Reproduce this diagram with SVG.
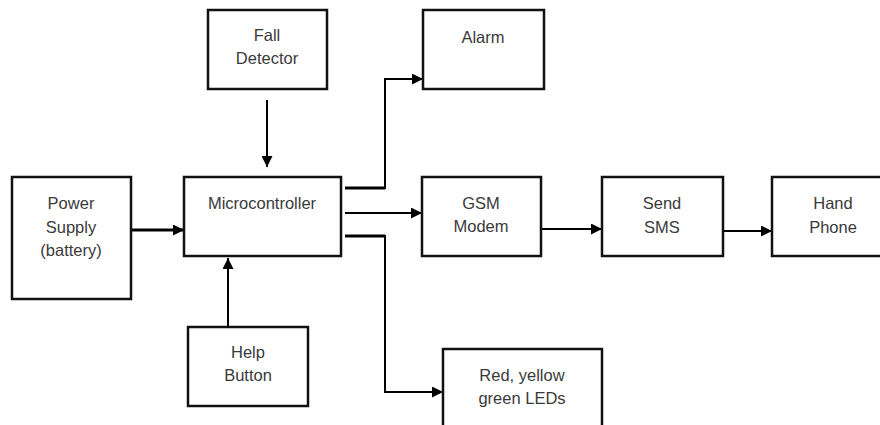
<svg xmlns="http://www.w3.org/2000/svg" width="880" height="425" viewBox="0 0 880 425">
<defs>
<marker id="ah" viewBox="0 0 10 10" refX="10" refY="5" markerWidth="11" markerHeight="11" markerUnits="userSpaceOnUse" orient="auto">
<path d="M0,0 L10,5 L0,10 z" fill="#000"/>
</marker>
<style>
.box{fill:#fff;stroke:#111;stroke-width:2.5}
.t{font-family:"Liberation Sans",Arial,sans-serif;font-size:16.5px;fill:#3a3a3a;text-anchor:middle}
.c{fill:none;stroke:#000;stroke-width:2}
.k{stroke-width:3}
</style>
</defs>
<rect width="880" height="425" fill="#fff"/>
<g id="connectors">
<line class="c" x1="267" y1="100" x2="267" y2="167" marker-end="url(#ah)"/>
<line class="c" x1="228" y1="327" x2="228" y2="258" marker-end="url(#ah)"/>
<line class="c k" x1="131" y1="230" x2="184" y2="230" marker-end="url(#ah)"/>
<polyline class="c" points="345,188 385,188 385,79 423,79" marker-end="url(#ah)"/>
<line class="c k" x1="345" y1="188" x2="385" y2="188"/>
<line class="c" x1="345" y1="213" x2="422" y2="213" stroke-width="2.5" marker-end="url(#ah)"/>
<polyline class="c" points="345,236 385,236 385,392 443,392" marker-end="url(#ah)"/>
<line class="c k" x1="345" y1="236" x2="385" y2="236"/>
<line class="c" x1="541" y1="229" x2="602" y2="229" stroke-width="1.5" marker-end="url(#ah)"/>
<line class="c" x1="723" y1="231" x2="772" y2="231" stroke-width="3.5" marker-end="url(#ah)"/>
</g>
<g id="fall">
<rect class="box" x="208" y="10" width="119" height="79"/>
<text class="t" x="267" y="41">Fall</text>
<text class="t" x="267" y="64">Detector</text>
</g>
<g id="power">
<rect class="box" x="12" y="177" width="119" height="122"/>
<text class="t" x="71" y="209">Power</text>
<text class="t" x="71" y="233">Supply</text>
<text class="t" x="71" y="256">(battery)</text>
</g>
<g id="micro">
<rect class="box" x="184" y="177" width="157" height="79"/>
<text class="t" x="262" y="209">Microcontroller</text>
</g>
<g id="help">
<rect class="box" x="188" y="327" width="120" height="79"/>
<text class="t" x="248" y="358">Help</text>
<text class="t" x="248" y="381">Button</text>
</g>
<g id="alarm">
<rect class="box" x="423" y="10" width="121" height="79"/>
<text class="t" x="483" y="43">Alarm</text>
</g>
<g id="gsm">
<rect class="box" x="422" y="177" width="119" height="79"/>
<text class="t" x="481" y="209">GSM</text>
<text class="t" x="481" y="232">Modem</text>
</g>
<g id="leds">
<rect class="box" x="443" y="349" width="159" height="90"/>
<text class="t" x="522" y="381">Red, yellow</text>
<text class="t" x="522" y="404">green LEDs</text>
</g>
<g id="sms">
<rect class="box" x="602" y="177" width="121" height="79"/>
<text class="t" x="662" y="209">Send</text>
<text class="t" x="662" y="233">SMS</text>
</g>
<g id="phone">
<rect class="box" x="772" y="177" width="120" height="79"/>
<text class="t" x="833" y="209">Hand</text>
<text class="t" x="833" y="233">Phone</text>
</g>
</svg>
